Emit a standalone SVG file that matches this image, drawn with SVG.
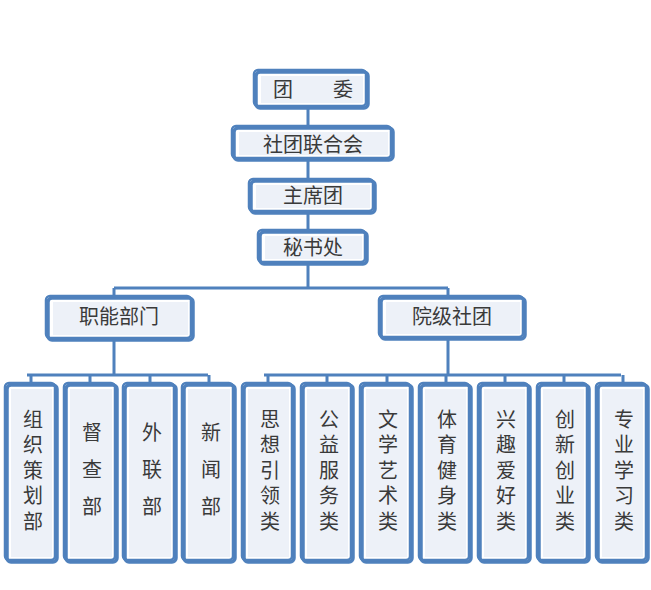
<svg xmlns="http://www.w3.org/2000/svg" width="651" height="590" viewBox="0 0 651 590">
<style>
.box{fill:#fff;stroke:#4F81BD;stroke-width:3.5}
.sh{fill:none;stroke:#4F81BD;stroke-width:2.5}
.in{fill:#EDF1F8}
.ln{stroke:#4F81BD;stroke-width:3;fill:none}
text{font-family:"Noto Sans CJK SC","Noto Sans",sans-serif;font-size:20px;fill:#3a3a3a;text-anchor:middle}
.v5{writing-mode:vertical-rl;text-orientation:upright;letter-spacing:5.5px}
.v3{writing-mode:vertical-rl;text-orientation:upright;letter-spacing:17px}
</style>
<rect width="651" height="590" fill="#fff"/>
<g id="connectors">
<path class="ln" d="M308 108V128M308 160V180M308 213V231M308 264V288M114 288H448M114 288V297M448 288V297"/>
<path class="ln" d="M114 340V375M27 375H208M31 375V383M90 375V383M150 375V383M209 375V383"/>
<path class="ln" d="M448 339V375M264 375H621M268 375V383M327 375V383M387 375V383M446 375V383M505 375V383M564 375V383M623 375V383"/>
</g>
<g id="n-tuanwei">
<rect class="box" x="256" y="72" width="112" height="36" rx="4"/>
<rect class="sh" x="254" y="70" width="112" height="36" rx="4"/>
<rect class="in" x="261" y="76" width="102" height="27"/>
<text x="313" y="97" xml:space="preserve">团　　委</text>
</g>
<g id="n-shetuan">
<rect class="box" x="234" y="128" width="159" height="32" rx="4"/>
<rect class="sh" x="232" y="126" width="159" height="32" rx="4"/>
<rect class="in" x="239" y="132" width="149" height="23"/>
<text x="313" y="152">社团联合会</text>
</g>
<g id="n-zhuxi">
<rect class="box" x="251" y="181" width="124" height="32" rx="4"/>
<rect class="sh" x="249" y="179" width="124" height="32" rx="4"/>
<rect class="in" x="256" y="185" width="114" height="23"/>
<text x="313" y="203">主席团</text>
</g>
<g id="n-mishu">
<rect class="box" x="260" y="232" width="107" height="32" rx="4"/>
<rect class="sh" x="258" y="230" width="107" height="32" rx="4"/>
<rect class="in" x="265" y="236" width="97" height="23"/>
<text x="313" y="255">秘书处</text>
</g>
<g id="n-zhineng">
<rect class="box" x="48" y="298" width="145" height="42" rx="4"/>
<rect class="sh" x="46" y="296" width="145" height="42" rx="4"/>
<rect class="in" x="53" y="302" width="135" height="33"/>
<text x="119" y="324">职能部门</text>
</g>
<g id="n-yuanji">
<rect class="box" x="381" y="298" width="144" height="41" rx="4"/>
<rect class="sh" x="379" y="296" width="144" height="41" rx="4"/>
<rect class="in" x="386" y="302" width="134" height="32"/>
<text x="452" y="324">院级社团</text>
</g>
<g id="c1">
<rect class="box" x="7" y="385" width="50" height="177" rx="4"/><rect class="sh" x="5" y="383" width="50" height="177" rx="4"/><rect class="in" x="11" y="389" width="41" height="168"/>
<text class="v5" x="33" y="473">组织策划部</text>
</g>
<g id="c2">
<rect class="box" x="66" y="385" width="51" height="177" rx="4"/><rect class="sh" x="64" y="383" width="51" height="177" rx="4"/><rect class="in" x="70" y="389" width="42" height="168"/>
<text class="v3" x="92" y="478">督查部</text>
</g>
<g id="c3">
<rect class="box" x="125" y="385" width="51" height="177" rx="4"/><rect class="sh" x="123" y="383" width="51" height="177" rx="4"/><rect class="in" x="129" y="389" width="42" height="168"/>
<text class="v3" x="152" y="478">外联部</text>
</g>
<g id="c4">
<rect class="box" x="184" y="385" width="51" height="177" rx="4"/><rect class="sh" x="182" y="383" width="51" height="177" rx="4"/><rect class="in" x="188" y="389" width="42" height="168"/>
<text class="v3" x="211" y="478">新闻部</text>
</g>
<g id="c5">
<rect class="box" x="244" y="385" width="50" height="177" rx="4"/><rect class="sh" x="242" y="383" width="50" height="177" rx="4"/><rect class="in" x="248" y="389" width="41" height="168"/>
<text class="v5" x="270" y="473">思想引领类</text>
</g>
<g id="c6">
<rect class="box" x="303" y="385" width="50" height="177" rx="4"/><rect class="sh" x="301" y="383" width="50" height="177" rx="4"/><rect class="in" x="307" y="389" width="41" height="168"/>
<text class="v5" x="329" y="473">公益服务类</text>
</g>
<g id="c7">
<rect class="box" x="362" y="385" width="50" height="177" rx="4"/><rect class="sh" x="360" y="383" width="50" height="177" rx="4"/><rect class="in" x="366" y="389" width="41" height="168"/>
<text class="v5" x="388" y="473">文学艺术类</text>
</g>
<g id="c8">
<rect class="box" x="421" y="385" width="50" height="177" rx="4"/><rect class="sh" x="419" y="383" width="50" height="177" rx="4"/><rect class="in" x="425" y="389" width="41" height="168"/>
<text class="v5" x="447" y="473">体育健身类</text>
</g>
<g id="c9">
<rect class="box" x="480" y="385" width="50" height="177" rx="4"/><rect class="sh" x="478" y="383" width="50" height="177" rx="4"/><rect class="in" x="484" y="389" width="41" height="168"/>
<text class="v5" x="506" y="473">兴趣爱好类</text>
</g>
<g id="c10">
<rect class="box" x="539" y="385" width="50" height="177" rx="4"/><rect class="sh" x="537" y="383" width="50" height="177" rx="4"/><rect class="in" x="543" y="389" width="41" height="168"/>
<text class="v5" x="565" y="473">创新创业类</text>
</g>
<g id="c11">
<rect class="box" x="598" y="385" width="50" height="177" rx="4"/><rect class="sh" x="596" y="383" width="50" height="177" rx="4"/><rect class="in" x="602" y="389" width="41" height="168"/>
<text class="v5" x="624" y="473">专业学习类</text>
</g>
</svg>
